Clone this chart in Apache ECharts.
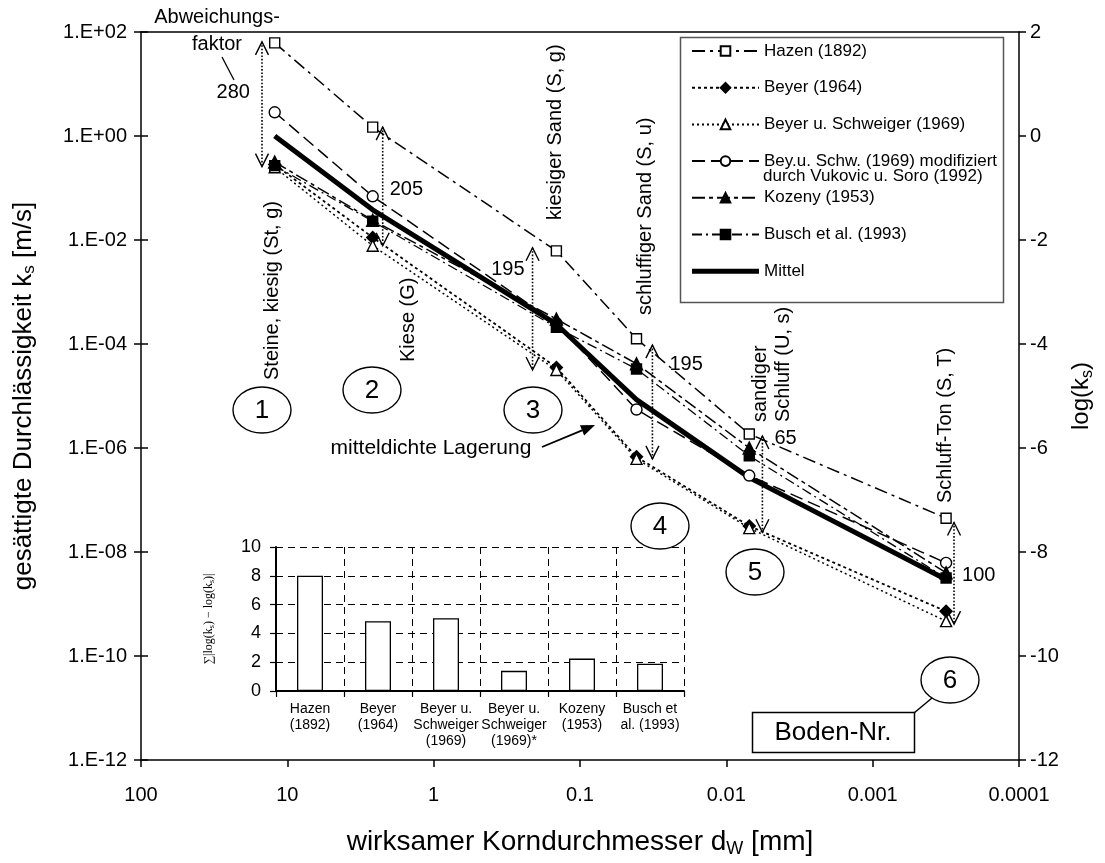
<!DOCTYPE html>
<html>
<head>
<meta charset="utf-8">
<script src="https://cdn.jsdelivr.net/npm/echarts@6.0.0/dist/echarts.min.js"></script>
<style>
html,body{margin:0;padding:0;background:#fff;}
#chart{width:1105px;height:863px;}
</style>
</head>
<body>
<div id="chart"></div>
<script>
// ---------------- data ----------------
const soilD = [12.2, 2.61, 0.145, 0.0411, 0.00697, 0.000315];          // wirksamer Korndurchmesser [mm]
const hazen        = [61.7, 1.48, 6.17e-3, 1.26e-4, 1.86e-6, 4.47e-8];  // ks [m/s]
const beyer        = [0.282, 1.12e-2, 3.55e-5, 6.76e-7, 3.16e-8, 7.24e-10];
const beyerSchw    = [0.251, 7.76e-3, 3.16e-5, 6.17e-7, 2.88e-8, 4.68e-10];
const beyerSchwMod = [2.86, 6.92e-2, 2.51e-4, 5.5e-6, 2.95e-7, 6.17e-9];
const kozeny       = [0.316, 2.4e-2, 3.02e-4, 4.17e-5, 1.0e-6, 3.98e-9];
const busch        = [0.269, 2.29e-2, 2.09e-4, 3.31e-5, 7.08e-7, 3.16e-9];
const mittel       = [1.0, 3.8e-2, 2.4e-4, 8.5e-6, 2.69e-7, 2.95e-9];
const methodNames = ['Hazen (1892)', 'Beyer (1964)', 'Beyer u. Schweiger (1969)',
  'Bey.u. Schw. (1969) modifiziert\ndurch Vukovic u. Soro (1992)', 'Kozeny (1953)', 'Busch et al. (1993)', 'Mittel'];
const soilLabels = ['Steine, kiesig (St, g)', 'Kiese (G)', 'kiesiger Sand (S, g)', 'schluffiger Sand (S, u)',
  'sandiger\nSchluff (U, s)', 'Schluff-Ton (S, T)'];
const soilNumbers = ['1', '2', '3', '4', '5', '6'];
// Abweichungsfaktor arrows (max / min per soil)
const arrowD      = [14.9, 2.23, 0.211, 0.032, 0.00567, 0.000278];
const arrowTop    = [64.6, 1.48, 7.1e-3, 9.5e-5, 1.7e-6, 3.7e-8];
const arrowBottom = [0.257, 7.76e-3, 3.16e-5, 6.17e-7, 2.4e-8, 4.1e-10];
const deviationFactors = ['280', '205', '195', '195', '65', '100'];
// inset bar chart
const barCategories = ['Hazen\n(1892)', 'Beyer\n(1964)', 'Beyer u.\nSchweiger\n(1969)', 'Beyer u.\nSchweiger\n(1969)*', 'Kozeny\n(1953)', 'Busch et\nal. (1993)'];
const barValues = [8.0, 4.85, 5.05, 1.4, 2.25, 1.9];
// tick labels
const xTickLabels = ['0.0001', '0.001', '0.01', '0.1', '1', '10', '100'];           // exponents -4..2
const yTickLabels = ['1.E-12', '1.E-10', '1.E-08', '1.E-06', '1.E-04', '1.E-02', '1.E+00', '1.E+02'];
const yRightTickLabels = ['-12', '-10', '-8', '-6', '-4', '-2', '0', '2'];

// ---------------- styling ----------------
const F = "'Liberation Sans', Arial, sans-serif";
const FN = "'Liberation Sans Narrow', 'Arial Narrow', 'Liberation Sans', sans-serif";
const styles = [
  {symbol: 'rect', size: 10, fill: '#fff', dash: [13, 5, 3, 5], width: 1.5},
  {symbol: 'diamond', size: 12, fill: '#000', dash: [3, 3], width: 1.8},
  {symbol: 'triangle', size: 11, fill: '#fff', dash: [2, 3], width: 1.5},
  {symbol: 'circle', size: 11, fill: '#fff', dash: [13, 6], width: 1.5},
  {symbol: 'triangle', size: 12, fill: '#000', dash: [13, 4, 4, 4], width: 1.5},
  {symbol: 'rect', size: 10, fill: '#000', dash: [10, 4, 2, 4], width: 1.3},
  {symbol: 'none', size: 0, fill: '#000', dash: 'solid', width: 5}
];
const seriesVals = [hazen, beyer, beyerSchw, beyerSchwMod, kozeny, busch, mittel];

const chart = echarts.init(document.getElementById('chart'), null, {renderer: 'canvas'});

const lineSeries = seriesVals.map((vals, i) => ({
  name: methodNames[i],
  type: 'line',
  xAxisIndex: 0, yAxisIndex: 0,
  data: soilD.map((d, j) => [Math.log10(d), Math.log10(vals[j])]),
  symbol: styles[i].symbol,
  symbolSize: styles[i].size,
  lineStyle: {color: '#000', width: styles[i].width, type: styles[i].dash},
  itemStyle: {color: styles[i].fill, borderColor: '#000', borderWidth: 1.4},
  z: i === 6 ? 2 : 3,
  silent: true,
  clip: false
}));

const axisLineStyle = {color: '#000', width: 1.5};
const LEG_LEFT = 686, LEG_PAD = 5, LEG_ITEM_W = 67;
const legendItems = methodNames.map((n, i) => i === 6
  ? {name: n, icon: 'path://M0,0L0.02,0L0.02,0.02L0,0.02Z M0,3.5L67,3.5L67,8.5L0,8.5Z M0,11.98L0.02,11.98L0.02,12L0,12Z',
     itemStyle: {borderWidth: 0}}
  : {name: n});

const option = {
  animation: false,
  backgroundColor: '#fff',
  textStyle: {fontFamily: F},
  grid: [
    {left: 141, right: 86, top: 32, bottom: 96},
    {left: 276, width: 408, top: 547, height: 144}
  ],
  legend: {
    data: legendItems,
    orient: 'vertical',
    left: LEG_LEFT, top: 36, padding: LEG_PAD,
    itemWidth: LEG_ITEM_W, itemHeight: 12, itemGap: 16.7,
    selectedMode: false,
    formatter: n => n.split('\n')[0],
    textStyle: {fontSize: 17, fontFamily: F, color: '#000', lineHeight: 20},
    z: 5
  },
  xAxis: [
    {
      type: 'value', gridIndex: 0, min: -4, max: 2, interval: 1, inverse: true, position: 'bottom',
      axisLine: {show: true, onZero: false, lineStyle: axisLineStyle},
      axisTick: {show: true, length: 7, lineStyle: axisLineStyle},
      axisLabel: {fontSize: 20, color: '#000', margin: 25, fontFamily: F,
        formatter: v => xTickLabels[Math.round(v) + 4]},
      splitLine: {show: false},
      name: '{n|wirksamer Korndurchmesser d}{sub|W}{n| [mm]}',
      nameLocation: 'middle', nameGap: 66,
      nameTextStyle: {rich: {
        n: {fontSize: 28, fontFamily: F, color: '#000'},
        sub: {fontSize: 18, fontFamily: F, color: '#000', padding: [14, 0, 0, 0]}
      }}
    },
    {
      type: 'value', gridIndex: 0, min: -4, max: 2, inverse: true, position: 'top',
      axisLine: {show: true, onZero: false, lineStyle: axisLineStyle},
      axisTick: {show: false}, axisLabel: {show: false}, splitLine: {show: false}
    },
    {
      type: 'category', gridIndex: 1, data: barCategories, boundaryGap: true,
      axisLine: {show: true, onZero: false, lineStyle: {color: '#000', width: 2}},
      axisTick: {show: true, length: 6, lineStyle: {color: '#000', width: 1.2}},
      axisLabel: {interval: 0, fontSize: 14, lineHeight: 16, fontFamily: FN, color: '#000', margin: 10},
      splitLine: {show: true, lineStyle: {color: '#000', width: 1, type: [7, 5]}}
    }
  ],
  yAxis: [
    {
      type: 'value', gridIndex: 0, min: -12, max: 2, interval: 2, position: 'left',
      axisLine: {show: true, onZero: false, lineStyle: axisLineStyle},
      axisTick: {show: true, length: 7, lineStyle: axisLineStyle},
      axisLabel: {fontSize: 20, color: '#000', margin: 14, fontFamily: F,
        formatter: v => yTickLabels[(Math.round(v) + 12) / 2]},
      splitLine: {show: false},
      name: '{n|gesättigte Durchlässigkeit k}{sub|s}{n| [m/s]}',
      nameLocation: 'middle', nameRotate: 90, nameGap: 103,
      nameTextStyle: {rich: {
        n: {fontSize: 26, fontFamily: F, color: '#000'},
        sub: {fontSize: 17, fontFamily: F, color: '#000', padding: [12, 0, 0, 0]}
      }}
    },
    {
      type: 'value', gridIndex: 0, min: -12, max: 2, interval: 2, position: 'right',
      axisLine: {show: true, onZero: false, lineStyle: axisLineStyle},
      axisTick: {show: true, length: 7, lineStyle: axisLineStyle},
      axisLabel: {fontSize: 20, color: '#000', margin: 11, fontFamily: F,
        formatter: v => yRightTickLabels[(Math.round(v) + 12) / 2]},
      splitLine: {show: false},
      name: '{n|log(k}{sub|s}{n|)}',
      nameLocation: 'middle', nameRotate: 90, nameGap: 47,
      nameTextStyle: {rich: {
        n: {fontSize: 24, fontFamily: F, color: '#000'},
        sub: {fontSize: 16, fontFamily: F, color: '#000', padding: [11, 0, 0, 0]}
      }}
    },
    {
      type: 'value', gridIndex: 1, min: 0, max: 10, interval: 2,
      axisLine: {show: true, onZero: false, lineStyle: {color: '#000', width: 2}},
      axisTick: {show: true, length: 6, lineStyle: {color: '#000', width: 1.2}},
      axisLabel: {fontSize: 18, color: '#000', margin: 15, fontFamily: F},
      splitLine: {show: true, lineStyle: {color: '#000', width: 1, type: [7, 5]}},
      name: '{t|∑|log(k}{sub|s}{t|) − log(k}{sub|s}{t|)|}',
      nameLocation: 'middle', nameRotate: 90, nameGap: 60,
      nameTextStyle: {rich: {
        t: {fontSize: 12, fontFamily: "'Liberation Serif', 'Times New Roman', serif", color: '#000'},
        sub: {fontSize: 8, fontFamily: "'Liberation Serif', serif", color: '#000', padding: [6, 0, 0, 0]}
      }}
    },
    {
      // inner half of the crossing ticks on the left axis
      type: 'value', gridIndex: 0, min: -12, max: 2, interval: 2, position: 'left',
      axisLine: {show: false, onZero: false}, axisLabel: {show: false}, splitLine: {show: false},
      axisTick: {show: true, inside: true, length: 7, lineStyle: axisLineStyle}
    }
  ],
  series: lineSeries.concat([{
    type: 'bar', name: 'Abweichung', xAxisIndex: 2, yAxisIndex: 2,
    data: barValues, barWidth: 26, silent: true,
    itemStyle: {color: '#fff', borderColor: '#000', borderWidth: 1.3}
  }])
};
chart.setOption(option);

// ---------------- annotations (positioned through the axes) ----------------
function px(d, k) {
  return chart.convertToPixel({xAxisIndex: 0, yAxisIndex: 0}, [Math.log10(d), Math.log10(k)]);
}
const g = [];
const txt = (x, y, text, o) => ({
  type: 'text', x, y, rotation: (o && o.rot) || 0, z: 60,
  style: {text, fontSize: (o && o.fs) || 20, fontFamily: F, fill: '#000',
    align: (o && o.align) || 'center', verticalAlign: (o && o.va) || 'middle',
    lineHeight: (o && o.lh) || undefined}
});

// legend frame and 2nd line of the 4th legend entry (legend text = left + padding + itemWidth + 5)
g.push({type: 'rect', z: 1, shape: {x: 680.5, y: 37.5, width: 323, height: 265},
  style: {fill: '#fff', stroke: '#555', lineWidth: 1.5}});
g.push(txt(LEG_LEFT + LEG_PAD + LEG_ITEM_W + 5, 176, methodNames[3].split('\n')[1], {fs: 17, align: 'left'}));

// deviation arrows
const arrowLabelOffsets = [
  {dx: -12, dy: 51, align: 'right'}, {dx: 7, dy: 62, align: 'left'}, {dx: -8, dy: 22, align: 'right'},
  {dx: 17, dy: 19, align: 'left'}, {dx: 12, dy: 2, align: 'left'}, {dx: 8, dy: 53, align: 'left'}
];
arrowD.forEach((d, i) => {
  const t = px(d, arrowTop[i]), b = px(d, arrowBottom[i]);
  const x = t[0];
  g.push({type: 'line', z: 55, shape: {x1: x, y1: t[1], x2: x, y2: b[1]},
    style: {stroke: '#000', lineWidth: 1.6, lineDash: [1.6, 1.8]}});
  g.push({type: 'polyline', z: 55, shape: {points: [[x - 6.5, t[1] + 13], [x, t[1]], [x + 6.5, t[1] + 13]]},
    style: {stroke: '#000', lineWidth: 1.4, fill: null}});
  g.push({type: 'polyline', z: 55, shape: {points: [[x - 6.5, b[1] - 13], [x, b[1]], [x + 6.5, b[1] - 13]]},
    style: {stroke: '#000', lineWidth: 1.4, fill: null}});
  const o = arrowLabelOffsets[i];
  g.push(txt(x + o.dx, t[1] + o.dy, deviationFactors[i], {align: o.align}));
});

// "Abweichungsfaktor" caption
g.push(txt(217, 17, 'Abweichungs-'));
g.push(txt(217, 44, 'faktor'));
g.push({type: 'line', z: 55, shape: {x1: 222, y1: 57, x2: 234, y2: 80}, style: {stroke: '#000', lineWidth: 1.3}});

// rotated soil descriptions (x centre, bottom y)
const soilLabelPos = [[272, 380], [408, 362], [555, 220], [645, 315], [771.5, 422], [945, 503]];
soilLabels.forEach((s, i) => {
  g.push(txt(soilLabelPos[i][0], soilLabelPos[i][1], s, {rot: Math.PI / 2, align: 'left', lh: 23}));
});

// circled soil numbers
const circlePos = [[262, 410], [372, 390], [533, 410], [660, 526], [755, 572], [950, 680]];
circlePos.forEach((p, i) => {
  g.push({type: 'ellipse', z: 58, shape: {cx: p[0], cy: p[1], rx: 29, ry: 23},
    style: {fill: '#fff', stroke: '#000', lineWidth: 1.4}});
  g.push(txt(p[0], p[1] + 1, soilNumbers[i], {fs: 26}));
});

// Boden-Nr. label
g.push({type: 'line', z: 57, shape: {x1: 914, y1: 713, x2: 932, y2: 698}, style: {stroke: '#000', lineWidth: 1.5}});
g.push({type: 'rect', z: 58, shape: {x: 752.5, y: 712.5, width: 162, height: 40},
  style: {fill: '#fff', stroke: '#000', lineWidth: 1.5}});
g.push(txt(833, 733, 'Boden-Nr.', {fs: 26}));

// mitteldichte Lagerung
g.push(txt(431, 448, 'mitteldichte Lagerung', {fs: 21}));
(function () {
  const x1 = 542, y1 = 447, x2 = 595, y2 = 425;
  const a = Math.atan2(y2 - y1, x2 - x1), L = 14, W = 5.5;
  const bx = x2 - L * Math.cos(a), by = y2 - L * Math.sin(a);
  g.push({type: 'line', z: 55, shape: {x1, y1, x2: bx, y2: by}, style: {stroke: '#000', lineWidth: 1.8}});
  g.push({type: 'polygon', z: 55, shape: {points: [[x2, y2],
    [bx + W * Math.sin(a), by - W * Math.cos(a)], [bx - W * Math.sin(a), by + W * Math.cos(a)]]},
    style: {fill: '#000'}});
})();

chart.setOption({graphic: {elements: g}});
</script>
</body>
</html>
